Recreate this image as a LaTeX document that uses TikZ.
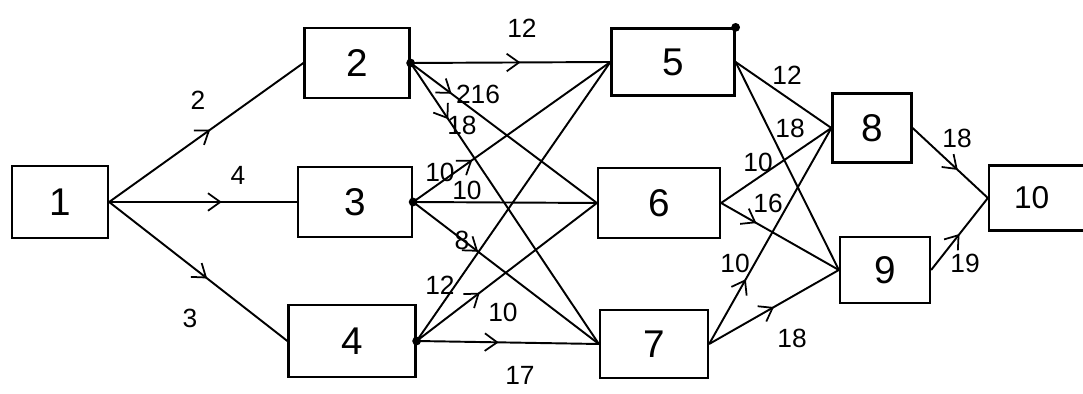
\documentclass[tikz,border=0pt]{standalone}
\usepackage{fontspec}
\setmainfont{Liberation Sans}
\usetikzlibrary{arrows.meta,decorations.markings}
\tikzset{
  box/.style={draw, line width=1.3pt, inner sep=0pt, font=\fontsize{22}{24}\selectfont},
  edge/.style={line width=1.1pt},
  arrat/.style={postaction={decorate},decoration={markings,mark=at position #1 with {\arrow{Straight Barb[length=7pt,width=10pt,line width=1pt]}}}},
  lbl/.style={font=\fontsize{15}{16}\selectfont, inner sep=1pt},
  dotc/.style={circle, fill, inner sep=0pt, minimum size=5pt}
}
\begin{document}
\begin{tikzpicture}[x=0.02cm, y=-0.02cm]
\useasboundingbox (0,0) rectangle (1083,394);
% nodes
\node[box, minimum width=1.92cm, minimum height=1.44cm] (n1) at (60,202) {1};
\node[box, minimum width=2.10cm, minimum height=1.40cm] (n2) at (357,63) {2};
\node[box, minimum width=2.28cm, minimum height=1.40cm] (n3) at (355,202) {3};
\node[box, minimum width=2.54cm, minimum height=1.44cm] (n4) at (352,341) {4};
\node[box, minimum width=2.46cm, minimum height=1.34cm] (n5) at (673,62) {5};
\node[box, minimum width=2.44cm, minimum height=1.40cm] (n6) at (659,203) {6};
\node[box, minimum width=2.16cm, minimum height=1.36cm] (n7) at (654,344) {7};
\node[box, minimum width=1.58cm, minimum height=1.38cm] (n8) at (872,128) {8};
\node[box, minimum width=1.80cm, minimum height=1.32cm] (n9) at (885,270) {9};
\node[box, minimum width=2.00cm, minimum height=1.30cm, text width=1.9cm, align=left] (n10) at (1039,198) {\hspace{0.45cm}\fontsize{18}{20}\selectfont 10};
% edges
\draw[edge, arrat=0.52] (n1.east) -- (n2.west);
\draw[edge, arrat=0.6] (n1.east) -- (n3.west);
\draw[edge, arrat=0.55] (n1.east) -- (n4.west);
\draw[edge, arrat=0.55] (n2.east) -- (n5.west);
\draw[edge, arrat=0.22] (n2.east) -- (n6.west);
\draw[edge, arrat=0.2] (n2.east) -- (n7.west);
\draw[edge, arrat=0.3] (n3.east) -- (n5.west);
\draw[edge] (n3.east) -- (n6.west);
\draw[edge, arrat=0.35] (n3.east) -- (n7.west);
\draw[edge] (n4.east) -- (n5.west);
\draw[edge, arrat=0.35] (n4.east) -- (n6.west);
\draw[edge, arrat=0.45] (n4.east) -- (n7.west);
\draw[edge] (n5.east) -- (n8.west);
\draw[edge] (n5.east) -- (n9.west);
\draw[edge] (n6.east) -- (n8.west);
\draw[edge, arrat=0.3] (n6.east) -- (n9.west);
\draw[edge, arrat=0.3] (n7.east) -- (n8.west);
\draw[edge, arrat=0.5] (n7.east) -- (n9.west);
\draw[edge, arrat=0.6] (n8.east) -- (n10.west);
\draw[edge, arrat=0.5] (n9.east) -- (n10.west);
% dots
\node[dotc] (d2) at (n2.east) {};
\node[dotc] (d3) at (n3.east) {};
\node[dotc] (d4) at (n4.east) {};
\node[dotc] (d5) at (n5.north east) {};
% labels
\node[lbl] (l12) at (198,100) {2};
\node[lbl] (l13) at (238,175) {4};
\node[lbl] (l14) at (190,318) {3};
\node[lbl] (l25) at (522,28) {12};
\node[lbl] (l26) at (478,94) {216};
\node[lbl] (l27) at (462,125) {18};
\node[lbl] (l35) at (440,172) {10};
\node[lbl] (l36) at (467,190) {10};
\node[lbl] (l37) at (462,240) {8};
\node[lbl] (l45) at (440,285) {12};
\node[lbl] (l46) at (503,312) {10};
\node[lbl] (l47) at (520,375) {17};
\node[lbl] (l58) at (787,75) {12};
\node[lbl] (l59) at (790,128) {18};
\node[lbl] (l68) at (758,162) {10};
\node[lbl] (l69) at (768,203) {16};
\node[lbl] (l78) at (735,263) {10};
\node[lbl] (l79) at (792,338) {18};
\node[lbl] (l810) at (957,138) {18};
\node[lbl] (l910) at (965,263) {19};
\end{tikzpicture}
\end{document}
